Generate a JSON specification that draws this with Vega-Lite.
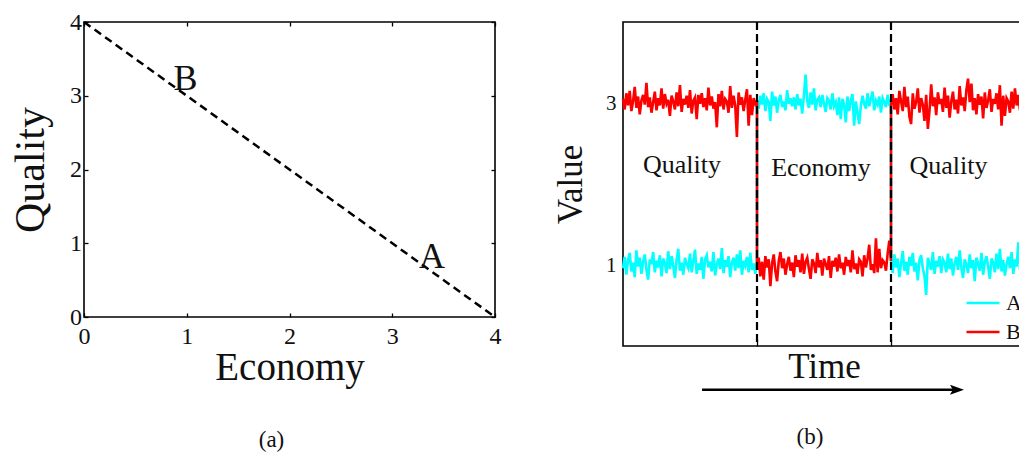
{
  "$schema": "https://vega.github.io/schema/vega-lite/v6.json",
  "background": "white",
  "padding": {"left": 8, "top": 9, "right": 0, "bottom": 0},
  "config": {
    "font": "Liberation Serif",
    "view": {"stroke": "black", "strokeWidth": 1.6},
    "axis": {
      "domain": false,
      "grid": false,
      "labelFont": "Liberation Serif",
      "titleFont": "Liberation Serif",
      "labelColor": "#111111",
      "titleColor": "#111111",
      "titleFontWeight": "normal",
      "tickColor": "black",
      "tickWidth": 1.3
    },
    "concat": {"spacing": 50},
    "title": {"font": "Liberation Serif", "fontWeight": "normal", "color": "#111111"}
  },
  "datasets": {
    "frontier": [
      {"economy": 0, "quality": 4},
      {"economy": 4, "quality": 0}
    ],
    "agents": [
      {"economy": 0.87, "quality": 3.08, "name": "B"},
      {"economy": 3.26, "quality": 0.66, "name": "A"}
    ],
    "series": [
      {"t": 0, "A": 0.96, "B": 3.05}, {"t": 1, "A": 1.10, "B": 2.92}, {"t": 2, "A": 0.88, "B": 3.12}, {"t": 3, "A": 1.06, "B": 2.97},
      {"t": 4, "A": 1.15, "B": 3.15}, {"t": 5, "A": 0.92, "B": 2.90}, {"t": 6, "A": 1.03, "B": 3.02}, {"t": 7, "A": 0.85, "B": 3.20},
      {"t": 8, "A": 1.18, "B": 2.94}, {"t": 9, "A": 0.98, "B": 3.08}, {"t": 10, "A": 1.09, "B": 2.86}, {"t": 11, "A": 0.89, "B": 3.03},
      {"t": 12, "A": 1.04, "B": 3.10}, {"t": 13, "A": 1.13, "B": 2.98}, {"t": 14, "A": 0.94, "B": 3.25}, {"t": 15, "A": 0.82, "B": 2.95},
      {"t": 16, "A": 1.07, "B": 3.07}, {"t": 17, "A": 1.01, "B": 2.88}, {"t": 18, "A": 1.16, "B": 3.01}, {"t": 19, "A": 0.91, "B": 3.14},
      {"t": 20, "A": 1.05, "B": 2.91}, {"t": 21, "A": 0.97, "B": 3.06}, {"t": 22, "A": 1.12, "B": 2.97}, {"t": 23, "A": 0.86, "B": 3.18},
      {"t": 24, "A": 1.08, "B": 2.93}, {"t": 25, "A": 1.02, "B": 3.11}, {"t": 26, "A": 0.90, "B": 2.99}, {"t": 27, "A": 1.17, "B": 3.04},
      {"t": 28, "A": 0.95, "B": 2.84}, {"t": 29, "A": 1.11, "B": 3.09}, {"t": 30, "A": 0.99, "B": 3.02}, {"t": 31, "A": 0.84, "B": 2.92},
      {"t": 32, "A": 1.06, "B": 3.13}, {"t": 33, "A": 1.20, "B": 2.96}, {"t": 34, "A": 0.93, "B": 3.22}, {"t": 35, "A": 1.03, "B": 2.89},
      {"t": 36, "A": 0.88, "B": 3.05}, {"t": 37, "A": 1.09, "B": 2.98}, {"t": 38, "A": 1.01, "B": 3.09}, {"t": 39, "A": 0.96, "B": 2.94},
      {"t": 40, "A": 1.14, "B": 3.16}, {"t": 41, "A": 0.91, "B": 2.87}, {"t": 42, "A": 1.05, "B": 3.03}, {"t": 43, "A": 1.19, "B": 3.07},
      {"t": 44, "A": 0.89, "B": 2.80}, {"t": 45, "A": 1.02, "B": 3.10}, {"t": 46, "A": 0.94, "B": 2.99}, {"t": 47, "A": 1.10, "B": 3.12},
      {"t": 48, "A": 0.83, "B": 2.95}, {"t": 49, "A": 1.07, "B": 3.06}, {"t": 50, "A": 1.12, "B": 2.91}, {"t": 51, "A": 0.97, "B": 3.19},
      {"t": 52, "A": 1.04, "B": 2.97}, {"t": 53, "A": 0.92, "B": 3.08}, {"t": 54, "A": 1.16, "B": 2.93}, {"t": 55, "A": 0.87, "B": 3.01},
      {"t": 56, "A": 1.01, "B": 2.70}, {"t": 57, "A": 1.08, "B": 3.11}, {"t": 58, "A": 0.95, "B": 2.96}, {"t": 59, "A": 1.21, "B": 3.15},
      {"t": 60, "A": 0.90, "B": 2.92}, {"t": 61, "A": 1.06, "B": 3.05}, {"t": 62, "A": 0.98, "B": 3.02}, {"t": 63, "A": 1.11, "B": 2.88},
      {"t": 64, "A": 0.85, "B": 3.21}, {"t": 65, "A": 1.03, "B": 2.94}, {"t": 66, "A": 1.09, "B": 3.09}, {"t": 67, "A": 0.93, "B": 2.97},
      {"t": 68, "A": 1.13, "B": 2.58}, {"t": 69, "A": 0.96, "B": 3.13}, {"t": 70, "A": 1.18, "B": 2.98}, {"t": 71, "A": 0.88, "B": 3.07},
      {"t": 72, "A": 1.05, "B": 2.90}, {"t": 73, "A": 0.99, "B": 3.04}, {"t": 74, "A": 1.10, "B": 3.17}, {"t": 75, "A": 0.91, "B": 2.72},
      {"t": 76, "A": 1.15, "B": 3.10}, {"t": 77, "A": 0.94, "B": 2.85}, {"t": 78, "A": 1.02, "B": 3.06}, {"t": 79, "A": 0.89, "B": 2.99},
      {"t": 80, "A": 1.04, "B": 3.03},
      {"t": 80, "A": 3.03, "B": 0.94}, {"t": 81, "A": 2.93, "B": 1.09}, {"t": 82, "A": 3.09, "B": 0.86}, {"t": 83, "A": 2.98, "B": 1.04},
      {"t": 84, "A": 3.12, "B": 0.82}, {"t": 85, "A": 2.90, "B": 1.11}, {"t": 86, "A": 3.05, "B": 0.97}, {"t": 87, "A": 3.01, "B": 1.07},
      {"t": 88, "A": 2.78, "B": 0.74}, {"t": 89, "A": 3.14, "B": 1.02}, {"t": 90, "A": 2.97, "B": 1.13}, {"t": 91, "A": 3.08, "B": 0.92},
      {"t": 92, "A": 2.88, "B": 0.80}, {"t": 93, "A": 3.04, "B": 1.05}, {"t": 94, "A": 3.10, "B": 1.16}, {"t": 95, "A": 2.95, "B": 0.96},
      {"t": 96, "A": 3.02, "B": 1.08}, {"t": 97, "A": 2.91, "B": 0.88}, {"t": 98, "A": 3.16, "B": 1.01}, {"t": 99, "A": 2.99, "B": 1.10},
      {"t": 100, "A": 3.06, "B": 0.93}, {"t": 101, "A": 2.96, "B": 1.03}, {"t": 102, "A": 3.07, "B": 0.85}, {"t": 103, "A": 2.92, "B": 1.12},
      {"t": 104, "A": 3.11, "B": 0.98}, {"t": 105, "A": 2.97, "B": 1.06}, {"t": 106, "A": 3.05, "B": 0.91}, {"t": 107, "A": 2.87, "B": 1.14},
      {"t": 108, "A": 3.09, "B": 0.89}, {"t": 109, "A": 3.35, "B": 1.04}, {"t": 110, "A": 3.02, "B": 1.09}, {"t": 111, "A": 2.94, "B": 0.95},
      {"t": 112, "A": 3.13, "B": 0.83}, {"t": 113, "A": 2.98, "B": 1.07}, {"t": 114, "A": 3.18, "B": 1.02}, {"t": 115, "A": 2.91, "B": 0.90},
      {"t": 116, "A": 3.04, "B": 1.15}, {"t": 117, "A": 3.07, "B": 0.97}, {"t": 118, "A": 2.95, "B": 1.06}, {"t": 119, "A": 3.10, "B": 0.87},
      {"t": 120, "A": 2.99, "B": 1.08}, {"t": 121, "A": 2.89, "B": 1.01}, {"t": 122, "A": 3.06, "B": 0.94}, {"t": 123, "A": 3.03, "B": 1.11},
      {"t": 124, "A": 2.92, "B": 0.84}, {"t": 125, "A": 3.12, "B": 1.05}, {"t": 126, "A": 2.96, "B": 0.98}, {"t": 127, "A": 3.01, "B": 1.09},
      {"t": 128, "A": 2.85, "B": 0.92}, {"t": 129, "A": 3.07, "B": 1.13}, {"t": 130, "A": 2.80, "B": 0.96}, {"t": 131, "A": 3.05, "B": 1.03},
      {"t": 132, "A": 2.98, "B": 0.88}, {"t": 133, "A": 2.76, "B": 1.10}, {"t": 134, "A": 3.08, "B": 0.99}, {"t": 135, "A": 2.90, "B": 1.06},
      {"t": 136, "A": 3.03, "B": 0.91}, {"t": 137, "A": 3.11, "B": 1.18}, {"t": 138, "A": 2.72, "B": 0.95}, {"t": 139, "A": 3.02, "B": 1.02},
      {"t": 140, "A": 2.88, "B": 0.89}, {"t": 141, "A": 2.74, "B": 1.07}, {"t": 142, "A": 2.97, "B": 1.04}, {"t": 143, "A": 3.09, "B": 0.86},
      {"t": 144, "A": 2.99, "B": 1.12}, {"t": 145, "A": 2.93, "B": 0.97}, {"t": 146, "A": 3.12, "B": 1.08}, {"t": 147, "A": 2.96, "B": 1.25},
      {"t": 148, "A": 3.05, "B": 0.94}, {"t": 149, "A": 3.14, "B": 1.01}, {"t": 150, "A": 2.91, "B": 0.90}, {"t": 151, "A": 3.03, "B": 1.33},
      {"t": 152, "A": 2.98, "B": 0.91}, {"t": 153, "A": 3.08, "B": 1.20}, {"t": 154, "A": 2.88, "B": 0.96}, {"t": 155, "A": 3.06, "B": 1.06},
      {"t": 156, "A": 3.01, "B": 1.03}, {"t": 157, "A": 2.95, "B": 0.93}, {"t": 158, "A": 3.10, "B": 1.14}, {"t": 159, "A": 2.97, "B": 1.30},
      {"t": 160, "A": 3.04, "B": 1.05},
      {"t": 160, "A": 1.05, "B": 2.97}, {"t": 161, "A": 0.90, "B": 3.11}, {"t": 162, "A": 1.13, "B": 2.92}, {"t": 163, "A": 0.97, "B": 3.06},
      {"t": 164, "A": 1.08, "B": 2.86}, {"t": 165, "A": 0.85, "B": 3.15}, {"t": 166, "A": 1.02, "B": 3.02}, {"t": 167, "A": 1.17, "B": 2.90},
      {"t": 168, "A": 0.93, "B": 3.20}, {"t": 169, "A": 1.04, "B": 2.95}, {"t": 170, "A": 0.88, "B": 3.08}, {"t": 171, "A": 1.10, "B": 2.83},
      {"t": 172, "A": 0.99, "B": 2.74}, {"t": 173, "A": 1.15, "B": 3.12}, {"t": 174, "A": 0.92, "B": 2.93}, {"t": 175, "A": 1.03, "B": 3.01},
      {"t": 176, "A": 0.81, "B": 3.18}, {"t": 177, "A": 1.06, "B": 2.88}, {"t": 178, "A": 1.12, "B": 3.06}, {"t": 179, "A": 0.96, "B": 2.98},
      {"t": 180, "A": 0.86, "B": 2.78}, {"t": 181, "A": 0.63, "B": 3.10}, {"t": 182, "A": 1.09, "B": 2.68}, {"t": 183, "A": 1.01, "B": 2.91},
      {"t": 184, "A": 0.94, "B": 3.23}, {"t": 185, "A": 1.16, "B": 2.96}, {"t": 186, "A": 0.89, "B": 3.07}, {"t": 187, "A": 1.05, "B": 2.85},
      {"t": 188, "A": 0.98, "B": 3.13}, {"t": 189, "A": 1.11, "B": 2.99}, {"t": 190, "A": 0.90, "B": 3.05}, {"t": 191, "A": 1.07, "B": 2.89},
      {"t": 192, "A": 1.03, "B": 3.19}, {"t": 193, "A": 0.91, "B": 2.94}, {"t": 194, "A": 1.14, "B": 3.09}, {"t": 195, "A": 0.95, "B": 2.82},
      {"t": 196, "A": 1.08, "B": 3.02}, {"t": 197, "A": 0.87, "B": 3.14}, {"t": 198, "A": 1.02, "B": 2.92}, {"t": 199, "A": 1.10, "B": 3.04},
      {"t": 200, "A": 0.94, "B": 2.87}, {"t": 201, "A": 1.18, "B": 3.21}, {"t": 202, "A": 0.97, "B": 2.97}, {"t": 203, "A": 0.84, "B": 3.07},
      {"t": 204, "A": 1.07, "B": 2.90}, {"t": 205, "A": 1.01, "B": 3.16}, {"t": 206, "A": 0.90, "B": 3.30}, {"t": 207, "A": 1.13, "B": 3.01},
      {"t": 208, "A": 0.96, "B": 3.24}, {"t": 209, "A": 1.06, "B": 2.91}, {"t": 210, "A": 0.80, "B": 3.06}, {"t": 211, "A": 1.09, "B": 2.86},
      {"t": 212, "A": 1.02, "B": 3.11}, {"t": 213, "A": 0.93, "B": 2.98}, {"t": 214, "A": 1.15, "B": 3.08}, {"t": 215, "A": 0.88, "B": 2.81},
      {"t": 216, "A": 1.04, "B": 3.13}, {"t": 217, "A": 1.11, "B": 2.94}, {"t": 218, "A": 0.98, "B": 3.03}, {"t": 219, "A": 0.83, "B": 3.17},
      {"t": 220, "A": 1.08, "B": 2.89}, {"t": 221, "A": 1.03, "B": 3.05}, {"t": 222, "A": 0.91, "B": 2.99}, {"t": 223, "A": 1.14, "B": 3.12},
      {"t": 224, "A": 0.95, "B": 2.92}, {"t": 225, "A": 1.20, "B": 3.22}, {"t": 226, "A": 0.92, "B": 2.72}, {"t": 227, "A": 1.06, "B": 3.09},
      {"t": 228, "A": 0.87, "B": 2.84}, {"t": 229, "A": 1.01, "B": 3.06}, {"t": 230, "A": 1.10, "B": 3.02}, {"t": 231, "A": 0.96, "B": 2.88},
      {"t": 232, "A": 1.16, "B": 3.14}, {"t": 233, "A": 0.89, "B": 2.93}, {"t": 234, "A": 1.07, "B": 3.18}, {"t": 235, "A": 0.98, "B": 2.97},
      {"t": 236, "A": 1.28, "B": 3.10}, {"t": 237, "A": 0.94, "B": 2.91}, {"t": 238, "A": 1.22, "B": 3.05}, {"t": 239, "A": 0.91, "B": 3.15},
      {"t": 240, "A": 1.04, "B": 2.94}
    ],
    "switches": [{"t": 80}, {"t": 160}],
    "phases": [
      {"t": 35.2, "v": 2.14, "phase": "Quality"},
      {"t": 118.2, "v": 2.10, "phase": "Economy"},
      {"t": 194.3, "v": 2.12, "phase": "Quality"}
    ],
    "arrow": [{"t": 47.2, "t2": 199.4, "v": -0.54}]
  },
  "hconcat": [
    {
      "width": 411,
      "height": 295,
      "title": {"text": "(a)", "orient": "bottom", "fontSize": 23, "offset": 42, "dx": -18},
      "layer": [
        {
          "data": {"name": "frontier"},
          "mark": {"type": "line", "color": "black", "strokeWidth": 2.5, "strokeDash": [8, 5]},
          "encoding": {
            "x": {
              "field": "economy", "type": "quantitative",
              "scale": {"domain": [0, 4], "nice": false},
              "axis": {"orient": "bottom", "values": [0, 1, 2, 3, 4], "title": "Economy", "labelFontSize": 24, "titleFontSize": 39, "tickSize": -4, "labelPadding": 11, "titlePadding": 0, "labelFlush": false}
            },
            "y": {
              "field": "quality", "type": "quantitative",
              "scale": {"domain": [0, 4], "nice": false},
              "axis": {"orient": "left", "values": [0, 1, 2, 3, 4], "title": "Quality", "labelFontSize": 24, "titleFontSize": 42, "tickSize": -4, "labelPadding": 6.5, "titlePadding": 17.5, "labelFlush": false}
            }
          }
        },
        {
          "data": {"name": "agents"},
          "mark": {"type": "text", "fontSize": 36, "align": "left", "baseline": "alphabetic", "color": "#111111"},
          "encoding": {
            "x": {"field": "economy", "type": "quantitative", "axis": {"orient": "top", "values": [0, 1, 2, 3, 4], "labels": false, "title": null, "tickSize": -4}},
            "y": {"field": "quality", "type": "quantitative", "axis": {"orient": "right", "values": [0, 1, 2, 3, 4], "labels": false, "title": null, "tickSize": -4}},
            "text": {"field": "name"}
          }
        }
      ],
      "resolve": {"axis": {"x": "independent", "y": "independent"}}
    },
    {
      "width": 402,
      "height": 324,
      "title": {"text": "(b)", "orient": "bottom", "fontSize": 23, "offset": 31, "dx": -14},
      "layer": [
        {
          "data": {"name": "series"},
          "transform": [
            {"fold": ["A", "B"], "as": ["agent", "value"]},
            {"window": [{"op": "row_number", "as": "i"}]}
          ],
          "mark": {"type": "line", "strokeWidth": 2.6},
          "encoding": {
            "x": {
              "field": "t", "type": "quantitative",
              "scale": {"domain": [0, 240], "nice": false},
              "axis": {"orient": "bottom", "values": [80, 160], "labels": false, "title": "Time", "titleFontSize": 35, "tickSize": -7, "titlePadding": 3}
            },
            "y": {
              "field": "value", "type": "quantitative",
              "scale": {"domain": [0, 4], "nice": false},
              "axis": {"orient": "left", "values": [1, 3], "format": "d", "ticks": false, "labelFontSize": 21, "labelPadding": 7, "title": "Value", "titleFontSize": 35, "titlePadding": 17}
            },
            "color": {
              "field": "agent", "type": "nominal",
              "scale": {"domain": ["A", "B"], "range": ["#00FFFF", "#FF0000"]},
              "legend": {
                "orient": "none", "legendX": 881, "legendY": 263, "title": null,
                "symbolType": "stroke", "symbolSize": 1089, "symbolStrokeWidth": 2.5,
                "labelFontSize": 22, "labelFont": "Liberation Serif", "labelColor": "#111111",
                "labelOffset": 5, "rowPadding": 0, "padding": 0
              }
            },
            "order": {"field": "i", "type": "quantitative"}
          }
        },
        {
          "data": {"name": "switches"},
          "mark": {"type": "rule", "color": "black", "strokeWidth": 2.2, "strokeDash": [8, 4]},
          "encoding": {
            "x": {"field": "t", "type": "quantitative", "axis": null}
          }
        },
        {
          "data": {"name": "phases"},
          "mark": {"type": "text", "fontSize": 26, "align": "center", "baseline": "alphabetic", "color": "#111111"},
          "encoding": {
            "x": {"field": "t", "type": "quantitative", "axis": null},
            "y": {"field": "v", "type": "quantitative"},
            "text": {"field": "phase"}
          }
        },
        {
          "data": {"name": "arrow"},
          "mark": {"type": "rule", "color": "black", "strokeWidth": 2.5},
          "encoding": {
            "x": {"field": "t", "type": "quantitative", "axis": null},
            "x2": {"field": "t2"},
            "y": {"field": "v", "type": "quantitative"}
          }
        },
        {
          "data": {"name": "arrow"},
          "mark": {"type": "point", "shape": "M-1,-0.7L1,0L-1,0.7L-0.6,0Z", "filled": true, "color": "black", "size": 196, "opacity": 1},
          "encoding": {
            "x": {"field": "t2", "type": "quantitative", "axis": null},
            "y": {"field": "v", "type": "quantitative"}
          }
        }
      ],
      "resolve": {"axis": {"x": "independent"}}
    }
  ]
}
